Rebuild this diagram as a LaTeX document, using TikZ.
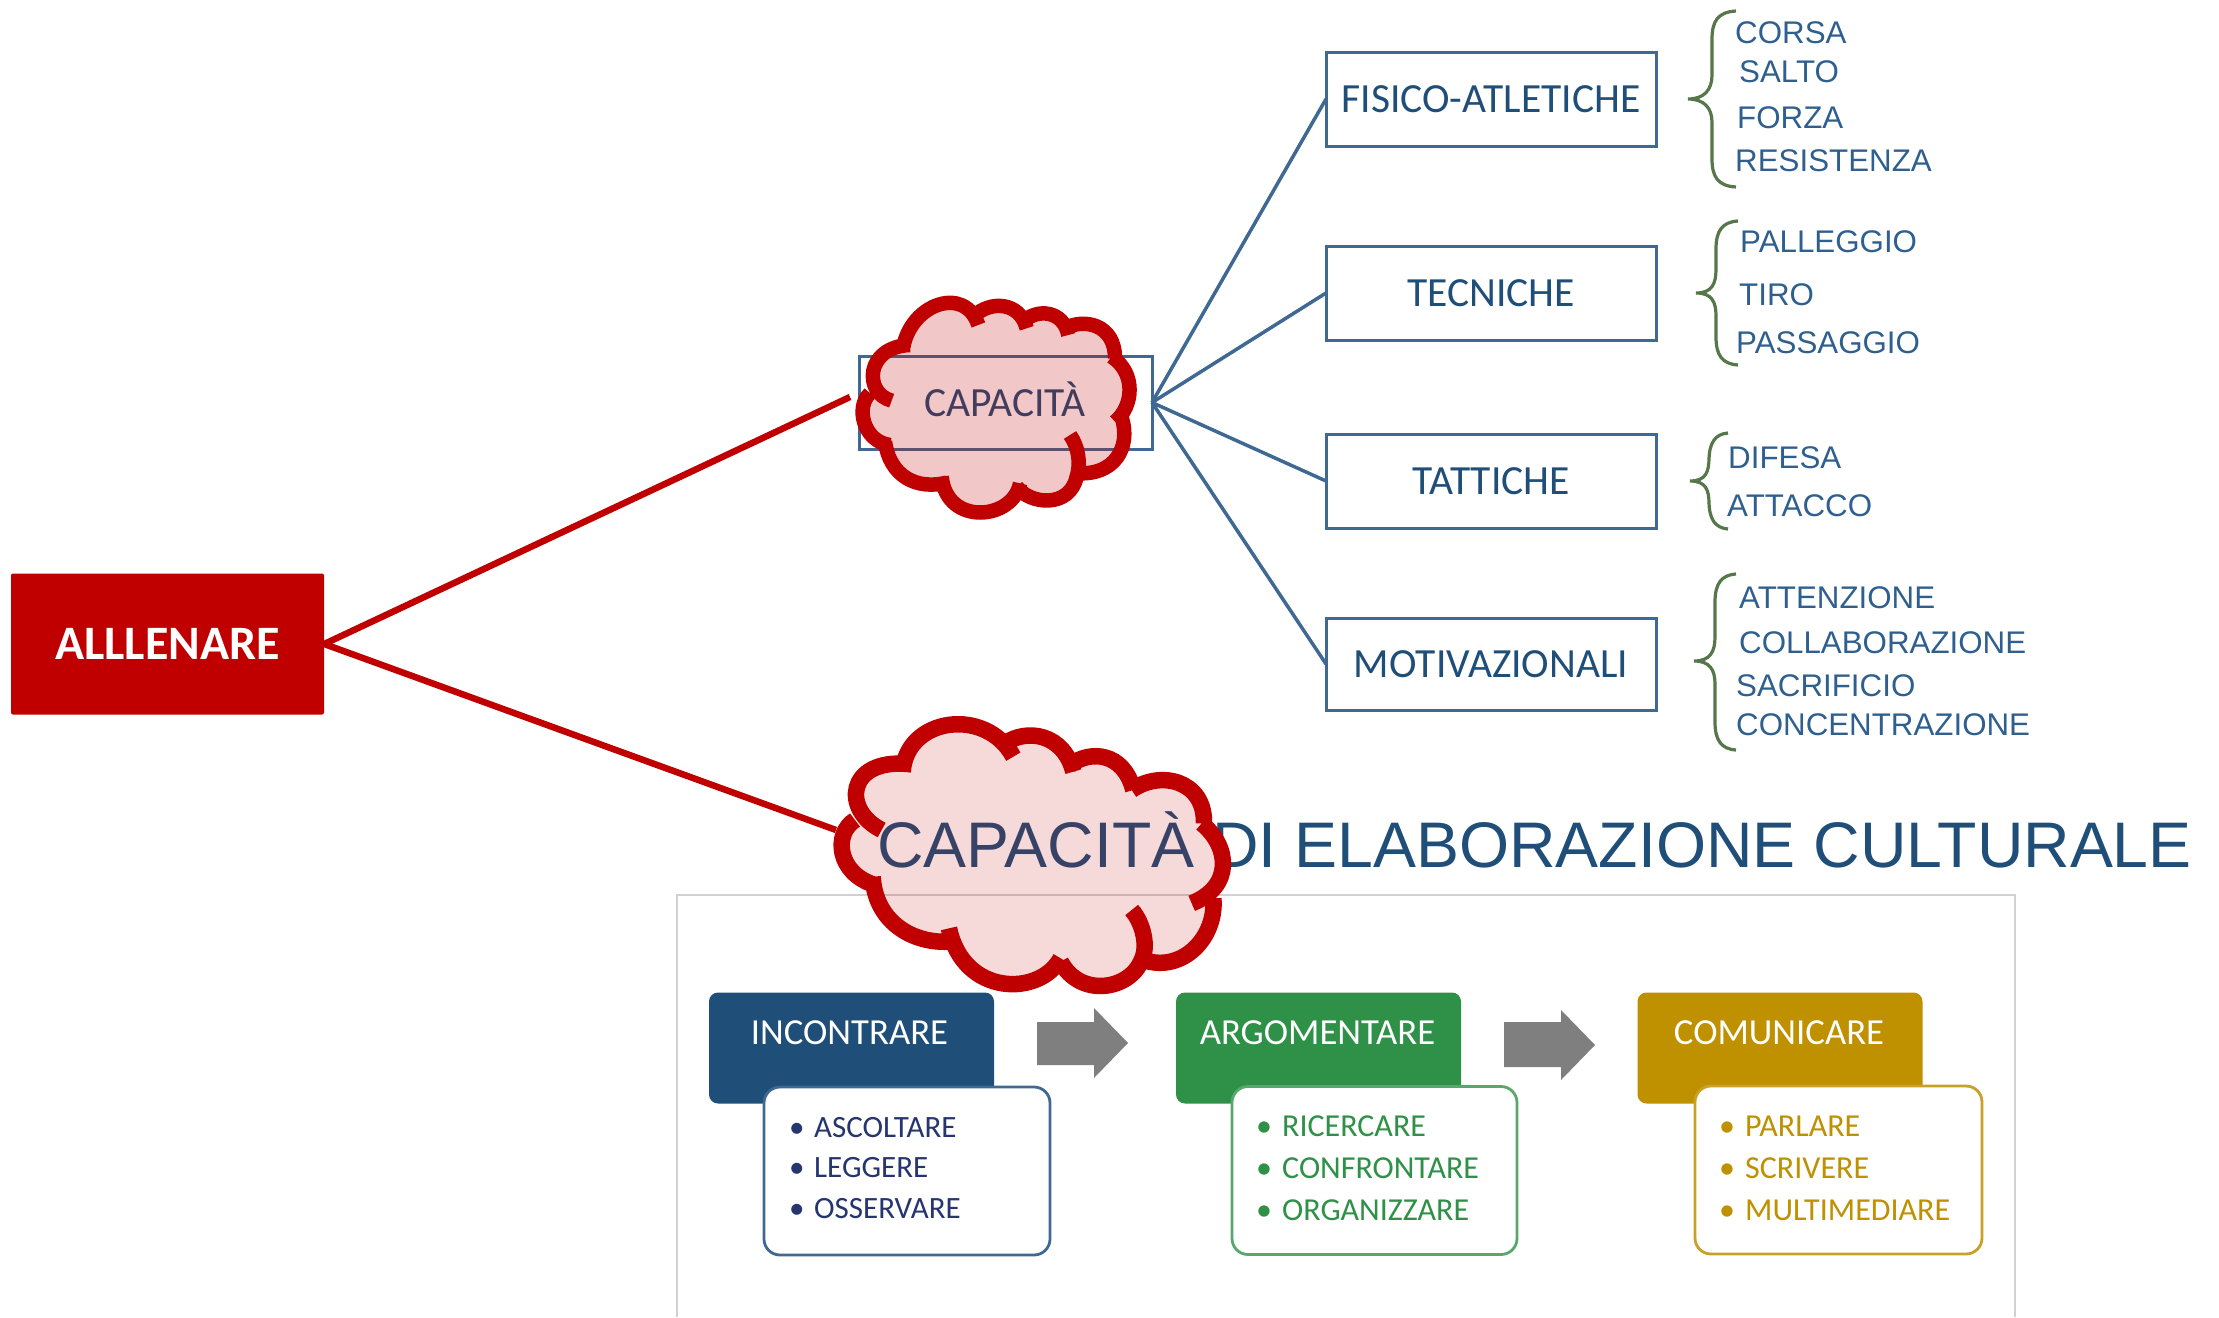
\documentclass[tikz,border=0pt]{standalone}
\usepackage{fontspec}
\setmainfont{Carlito}
\newfontfamily\arialf{Liberation Sans}
\definecolor{navy}{HTML}{1F4E79}
\definecolor{linkblue}{HTML}{3F6893}
\definecolor{listblue}{HTML}{2F5F8F}
\definecolor{inkblue}{HTML}{25356F}
\definecolor{bracegreen}{HTML}{55774A}
\definecolor{red1}{HTML}{C00000}
\definecolor{green1}{HTML}{2E9147}
\definecolor{gold1}{HTML}{BF9000}
\definecolor{gray1}{HTML}{7F7F7F}
\newcommand{\fs}[1]{\fontsize{#1}{#1}\selectfont}
\newcommand{\cbrace}[6]{%
  \draw[bracestyle] (#3,#4) .. controls ({#2+6},{#4+1}) and (#2,{#4+10}) .. (#2,{#4+28})
    -- (#2,{#5-24}) .. controls (#2,{#5-9}) and ({#1+16},#5) .. (#1,#5)
    .. controls ({#1+16},#5) and (#2,{#5+9}) .. (#2,{#5+23})
    -- (#2,{#6-28}) .. controls (#2,{#6-10}) and ({#2+6},{#6-1}) .. (#3,#6);}
\tikzset{
  catbox/.style={draw=linkblue,line width=3pt,fill=white,inner sep=0pt,outer sep=0pt,minimum width=330pt,text=navy,font=\fs{41.5}},
  link/.style={draw=linkblue,line width=3.5pt},
  redlink/.style={draw=red1,line width=6.5pt},
  listitem/.style={anchor=base west,inner sep=0pt,text=listblue,font=\arialf\fs{31.3}},
  bracestyle/.style={draw=bracegreen,line width=3.2pt},
  headbox/.style={rounded corners=9pt,inner sep=0pt,minimum width=285pt,minimum height=111pt,text=white,font=\fs{37}},
  subbox/.style={draw,fill=white,line width=2.8pt,rounded corners=16pt,inner sep=0pt,minimum height=168pt},
  subitem/.style={anchor=base west,inner sep=0pt,font=\fs{32}},
  flowarrow/.style={fill=gray1,draw=none},
}
\begin{document}
\begin{tikzpicture}[x=1pt,y=-1pt]
\useasboundingbox (0,0) rectangle (2219,1317);
% frame
\draw[draw=black!18,line width=1.6pt] (677,1317) -- (677,895) -- (2015,895) -- (2015,1317);
% main box
\node[fill=red1,rounded corners=2pt,inner sep=0pt,minimum width=313pt,minimum height=141pt,text=white,font=\bfseries\fs{48}] (main) at (167.5,644) {ALLLENARE};
% capacita box
\node[draw=linkblue,line width=3pt,inner sep=0pt,outer sep=0pt,minimum width=293pt,minimum height=93pt] (cap) at (1005.5,402.5) {};
\node[inner sep=0pt,text=navy,font=\fs{41.5}] (captext) at (1005,399) {CAPACITÀ};
% category boxes
\node[catbox,minimum height=94pt] (fis) at (1491,99) {FISICO-ATLETICHE};
\node[catbox,minimum height=94pt] (tec) at (1491,293) {TECNICHE};
\node[catbox,minimum height=94pt] (tat) at (1491,481) {TATTICHE};
\node[catbox,minimum height=92pt] (mot) at (1491,664) {MOTIVAZIONALI};
\draw[link] (cap.east) -- (fis.west);
\draw[link] (cap.east) -- (tec.west);
\draw[link] (cap.east) -- (tat.west);
\draw[link] (cap.east) -- (mot.west);
% braces
\cbrace{1688}{1712}{1736}{11}{99}{187}
\cbrace{1696}{1716}{1738}{221}{293}{365}
\cbrace{1690}{1709}{1728}{433}{481}{529}
\cbrace{1694}{1715}{1736}{574}{661}{750}
% lists
\node[listitem] (l1) at (1735,43) {CORSA};
\node[listitem] (l2) at (1739,82) {SALTO};
\node[listitem] (l3) at (1737,128) {FORZA};
\node[listitem] (l4) at (1735,171) {RESISTENZA};
\node[listitem] (l5) at (1740,252) {PALLEGGIO};
\node[listitem] (l6) at (1739,305) {TIRO};
\node[listitem] (l7) at (1736,353) {PASSAGGIO};
\node[listitem] (l8) at (1728,468) {DIFESA};
\node[listitem] (l9) at (1727,516) {ATTACCO};
\node[listitem] (l10) at (1739,608) {ATTENZIONE};
\node[listitem] (l11) at (1739,653) {COLLABORAZIONE};
\node[listitem] (l12) at (1736,696) {SACRIFICIO};
\node[listitem] (l13) at (1736,735) {CONCENTRAZIONE};
% title
\node[anchor=base west,inner sep=0pt,text=navy,font=\arialf\fs{64.4}] (title) at (877,867) {CAPACITÀ DI ELABORAZIONE CULTURALE};
% flow
\node[headbox,fill=navy] (h1) at (851.5,1048) {};
\node[headbox,fill=green1] (h2) at (1318.5,1048) {};
\node[headbox,fill=gold1] (h3) at (1780,1048) {};
\node[anchor=base,inner sep=0pt,text=white,font=\fs{36.7}] (t1) at (849.5,1044) {INCONTRARE};
\node[anchor=base,inner sep=0pt,text=white,font=\fs{36.7}] (t2) at (1317.5,1044) {ARGOMENTARE};
\node[anchor=base,inner sep=0pt,text=white,font=\fs{36.7}] (t3) at (1779,1044) {COMUNICARE};
\node[subbox,draw=linkblue,minimum width=286pt] (s1) at (907,1171) {};
\node[subbox,draw=green1!80,minimum width=285pt] (s2) at (1374.5,1170.5) {};
\node[subbox,draw=gold1!85,minimum width=287pt] (s3) at (1838.5,1170) {};
\fill[flowarrow] (1037,1022) -- (1094,1022) -- (1094,1008) -- (1128,1043) -- (1094,1078) -- (1094,1065) -- (1037,1065) -- cycle;
\fill[flowarrow] (1504,1022) -- (1561,1022) -- (1561,1010) -- (1595,1045) -- (1561,1080) -- (1561,1067) -- (1504,1067) -- cycle;
\node[subitem,text=inkblue,font=\fs{31}] (b1) at (789,1137) {\makebox[25pt][l]{•}ASCOLTARE};
\node[subitem,text=inkblue,font=\fs{31}] (b2) at (789,1177) {\makebox[25pt][l]{•}LEGGERE};
\node[subitem,text=inkblue,font=\fs{31}] (b3) at (789,1218) {\makebox[25pt][l]{•}OSSERVARE};
\node[subitem,text=green1] (g1) at (1256,1136) {\makebox[26pt][l]{•}RICERCARE};
\node[subitem,text=green1] (g2) at (1256,1178) {\makebox[26pt][l]{•}CONFRONTARE};
\node[subitem,text=green1] (g3) at (1256,1220) {\makebox[26pt][l]{•}ORGANIZZARE};
\node[subitem,text=gold1] (o1) at (1719,1136) {\makebox[26pt][l]{•}PARLARE};
\node[subitem,text=gold1] (o2) at (1719,1178) {\makebox[26pt][l]{•}SCRIVERE};
\node[subitem,text=gold1] (o3) at (1719,1220) {\makebox[26pt][l]{•}MULTIMEDIARE};
% red connectors
\coordinate (c1end) at (850,397);
\coordinate (c2end) at (836,830);
\draw[redlink] (main.east) -- (c1end);
\draw[redlink] (main.east) -- (c2end);
% cloud 1
\begin{scope}[shift={(800,260)},x=0.33333pt,y=-0.33333pt]
\fill[red1,fill opacity=0.22]
 (310,260) .. controls (335,130) and (495,75) .. (535,195)
 -- (520,170) .. controls (570,120) and (660,125) .. (680,205)
 -- (670,185) .. controls (710,145) and (790,150) .. (805,225)
 -- (795,205) .. controls (850,175) and (945,190) .. (945,295)
 -- (935,290) .. controls (1010,340) and (1000,440) .. (945,485)
 -- (960,460) .. controls (995,540) and (960,640) .. (845,640)
 -- (830,650) .. controls (810,745) and (690,735) .. (650,680)
 -- (660,670) .. controls (640,780) and (440,800) .. (425,650)
 -- (440,668) .. controls (350,690) and (270,650) .. (255,545)
 -- (270,555) .. controls (190,545) and (165,440) .. (210,400)
 -- (225,395) .. controls (190,360) and (195,260) .. (330,255) -- cycle;
\draw[draw=red1,line width=14.5pt]
 (310,260) .. controls (335,130) and (495,75) .. (535,195)
 (520,170) .. controls (570,120) and (660,125) .. (680,205)
 (670,185) .. controls (710,145) and (790,150) .. (805,225)
 (795,205) .. controls (850,175) and (945,190) .. (945,295)
 (935,290) .. controls (1010,340) and (1000,440) .. (945,485)
 (960,460) .. controls (995,540) and (960,640) .. (845,640)
 (810,525) .. controls (835,560) and (843,610) .. (830,650) .. controls (810,745) and (690,735) .. (650,680)
 (660,670) .. controls (640,780) and (440,800) .. (425,650)
 (440,668) .. controls (350,690) and (270,650) .. (255,545)
 (270,555) .. controls (190,545) and (165,440) .. (210,400)
 (275,422) .. controls (190,400) and (195,260) .. (330,255);
\end{scope}
% cloud 2
\begin{scope}[shift={(800,690)},x=0.33333pt,y=-0.33333pt]
\fill[red1,fill opacity=0.15]
 (308,245) .. controls (320,80) and (560,50) .. (640,200)
 -- (615,160) .. controls (680,115) and (790,130) .. (820,245)
 -- (810,225) .. controls (870,180) and (970,185) .. (1000,300)
 -- (995,300) .. controls (1080,240) and (1215,270) .. (1212,400)
 -- (1205,400) .. controls (1290,470) and (1300,590) .. (1175,640)
 -- (1240,625) .. controls (1250,740) and (1150,850) .. (1030,810)
 -- (1025,810) .. controls (990,900) and (840,925) .. (782,815)
 -- (782,805) .. controls (720,920) and (490,920) .. (447,715)
 -- (445,755) .. controls (330,760) and (225,690) .. (218,560)
 -- (225,585) .. controls (110,550) and (100,430) .. (165,390)
 -- (180,405) .. controls (125,340) and (140,205) .. (325,222) -- cycle;
\draw[draw=red1,line width=16.5pt]
 (308,245) .. controls (320,80) and (560,50) .. (640,200)
 (615,160) .. controls (680,115) and (790,130) .. (820,245)
 (810,225) .. controls (870,180) and (970,185) .. (1000,300)
 (995,300) .. controls (1080,240) and (1215,270) .. (1212,400)
 (1205,400) .. controls (1290,470) and (1300,590) .. (1175,640)
 (1240,625) .. controls (1250,740) and (1150,850) .. (1030,810)
 (995,660) .. controls (1030,700) and (1045,770) .. (1025,810) .. controls (990,900) and (840,925) .. (782,815)
 (782,805) .. controls (720,920) and (490,920) .. (447,715)
 (445,755) .. controls (330,760) and (225,690) .. (218,560)
 (225,585) .. controls (110,550) and (100,430) .. (165,390)
 (245,420) .. controls (125,360) and (140,205) .. (325,222);
\end{scope}
\end{tikzpicture}
\end{document}
